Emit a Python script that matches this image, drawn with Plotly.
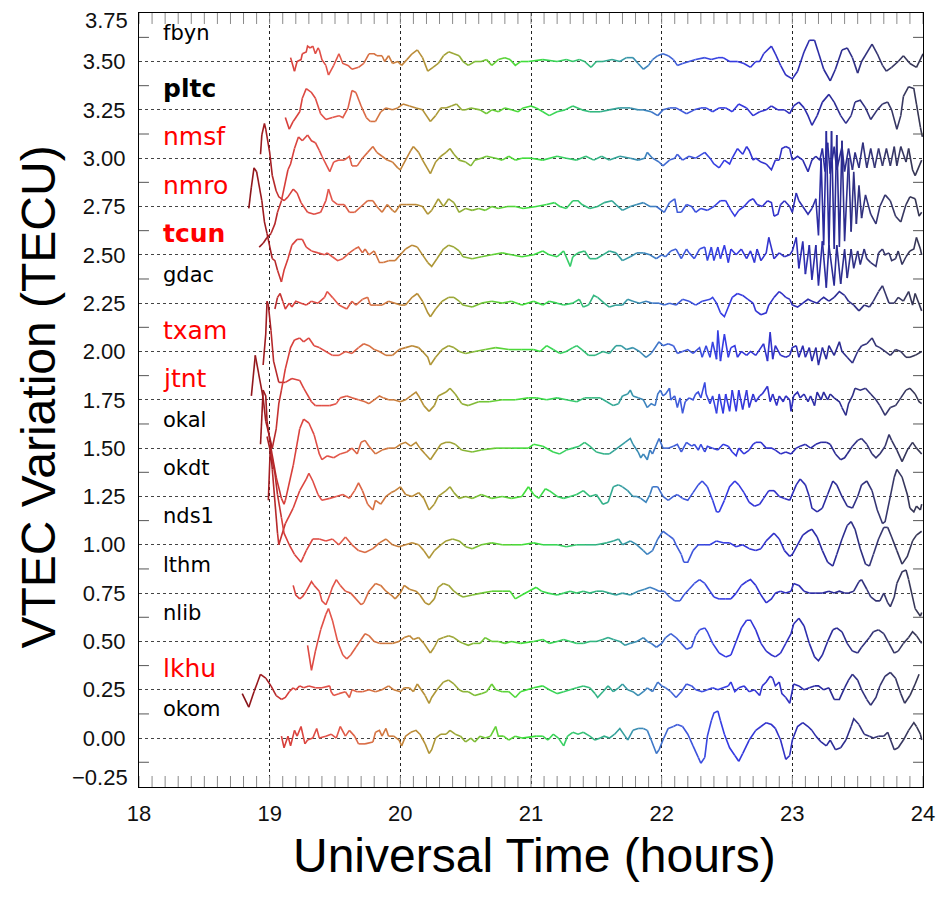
import plotly.graph_objects as go

# ---------------- data (hours UT, VTEC variation in TECU relative to each station offset) ----------------
STATIONS = ["fbyn", "pltc", "nmsf", "nmro", "tcun", "gdac", "txam", "jtnt",
            "okal", "okdt", "nds1", "lthm", "nlib", "lkhu", "okom"]
OFFSETS = [3.50, 3.25, 3.00, 2.75, 2.50, 2.25, 2.00, 1.75, 1.50, 1.25, 1.00, 0.75, 0.50, 0.25, 0.00]
LABEL_COLORS = ["black", "black", "red", "red", "red", "black", "red", "red",
                "black", "black", "black", "black", "black", "red", "black"]
LABEL_BOLD = [False, True, False, False, True, False, False, False,
              False, False, False, False, False, False, False]

FBYN = [(19.16,0.02),(19.19,-0.05),(19.21,0),(19.24,0.01),(19.25,0.04),(19.28,0.05),(19.29,0.08),(19.31,0.07),(19.33,0.08),(19.35,0.04),(19.37,0.07),(19.38,0.06),(19.40,0.01),(19.43,-0.02),(19.45,-0.07),(19.49,-0.02),(19.53,0.04),(19.56,-0.01),(19.60,-0.02),(19.63,-0.04),(19.68,-0.03),(19.72,-0.01),(19.76,0.04),(19.80,0.04),(19.82,0.03),(19.86,0.03),(19.88,0),(19.91,0.03),(19.94,-0.01),(19.98,0),(20.01,-0.02),(20.05,0.01),(20.09,0.04),(20.13,0.06),(20.17,0.02),(20.21,-0.05),(20.25,-0.03),(20.29,-0.01),(20.33,0.03),(20.37,0.05),(20.41,0.04),(20.45,0.03),(20.48,0),(20.52,-0.02),(20.57,0),(20.62,0),(20.66,0.01),(20.70,-0.02),(20.75,0.01),(20.80,0.02),(20.84,0.01),(20.88,-0.02),(20.92,0),(20.98,0),
        (21.09,0.01),(21.20,0),(21.27,0.01),(21.32,0),(21.37,0.01),(21.41,0),(21.46,-0.03),(21.50,0),(21.55,0),(21.62,0.01),(21.68,0),(21.73,0.02),(21.78,0.02),(21.82,-0.01),(21.86,-0.04),(21.90,-0.02),(21.93,0.01),(21.97,0.03),(22.01,0.04),(22.05,0.03),(22.09,0.01),(22.12,-0.02),(22.16,-0.01),(22.21,0),(22.26,0.01),(22.33,0.02),(22.38,0.01),(22.43,0.02),(22.47,0.02),(22.52,0),(22.58,0),(22.63,-0.01),(22.68,-0.03),(22.72,0),(22.75,0),(22.78,0.04),(22.84,0.08),(22.87,0.04),(22.91,-0.02),(22.95,-0.07),(23.00,-0.09),(23.04,-0.05),(23.09,0.05),(23.13,0.11),(23.17,0.11),(23.20,0.05),(23.24,-0.04),(23.29,-0.10),(23.33,-0.04),(23.38,0.06),(23.42,0.07),(23.46,0.02),(23.50,-0.06),(23.53,0),(23.61,0.09),(23.65,0.04),(23.69,-0.02),(23.72,-0.05),(23.76,-0.03),(23.81,0),(23.85,0.03),(23.90,-0.01),(23.95,-0.03),(24.0,0.04)]

PLTC = [(19.12,-0.04),(19.15,-0.10),(19.18,-0.06),(19.20,-0.04),(19.23,-0.01),(19.25,0.06),(19.28,0.11),(19.32,0.09),(19.35,0.06),(19.39,-0.02),(19.43,-0.05),(19.48,-0.04),(19.53,-0.03),(19.56,-0.04),(19.60,0.01),(19.63,0.10),(19.66,0.09),(19.70,0.02),(19.74,-0.04),(19.77,-0.06),(19.81,-0.06),(19.85,-0.01),(19.89,0.01),(19.94,0),(19.98,0.01),(20.02,0.03),(20.07,0.02),(20.12,0.01),(20.17,0),(20.20,-0.03),(20.23,-0.06),(20.27,-0.03),(20.31,0.01),(20.35,0.01),(20.39,0.02),(20.43,0.03),(20.47,0),(20.50,0),(20.54,0.01),(20.61,0),(20.66,-0.02),(20.70,0),(20.75,-0.01),(20.80,0.01),(20.85,0),(20.90,-0.01),(20.94,0.01),
        (21.00,0.02),(21.04,0.01),(21.09,-0.01),(21.14,-0.03),(21.20,-0.01),(21.26,0),(21.32,0.02),(21.39,0),(21.45,-0.01),(21.53,-0.01),(21.60,0),(21.68,0.01),(21.76,0.01),(21.82,0),(21.86,0),(21.92,-0.01),(21.97,-0.03),(22.01,0),(22.06,0.01),(22.11,0.01),(22.19,-0.02),(22.25,0),(22.30,0.01),(22.34,0.01),(22.39,-0.01),(22.44,0.01),(22.49,0.01),(22.54,-0.01),(22.59,0.03),(22.65,0.01),(22.70,-0.03),(22.75,-0.01),(22.80,0),(22.84,0.02),(22.89,0),(22.94,0),(22.98,-0.02),(23.01,0.02),(23.05,0.04),(23.09,0.01),(23.12,-0.03),(23.15,-0.08),(23.19,-0.03),(23.23,0.04),(23.28,0.08),(23.32,0.04),(23.37,-0.03),(23.41,-0.07),(23.45,-0.03),(23.48,0.04),(23.52,0.05),(23.56,0.01),(23.60,-0.05),(23.65,0),(23.69,0.03),(23.73,0.04),(23.76,0),(23.80,-0.10),(23.83,-0.03),(23.85,0.07),(23.89,0.12),(23.93,0.11),(23.95,0.03),(23.98,-0.09),(23.995,-0.14)]

NMSF = [(18.92,-0.46),(18.95,-0.44),(18.98,-0.41),(19.01,-0.39),(19.04,-0.34),(19.06,-0.28),(19.09,-0.22),(19.11,-0.16),(19.14,-0.06),(19.16,-0.03),(19.19,0.05),(19.22,0.11),(19.25,0.09),(19.29,0.12),(19.32,0.09),(19.35,0.08),(19.38,0.04),(19.40,0.01),(19.46,-0.07),(19.49,-0.02),(19.53,-0.01),(19.57,-0.01),(19.61,0.01),(19.63,-0.04),(19.67,-0.04),(19.71,0),(19.75,0.03),(19.79,0.06),(19.82,0.03),(19.86,0.01),(19.90,-0.01),(19.94,-0.02),(19.98,-0.05),(20.00,-0.06),(20.04,-0.01),(20.08,0.04),(20.10,0.06),(20.14,0.03),(20.17,-0.01),(20.21,-0.06),(20.23,-0.08),(20.27,-0.02),(20.31,0.01),(20.35,0.03),(20.38,0.05),(20.41,0.02),(20.45,-0.01),(20.50,-0.02),(20.54,-0.04),(20.57,-0.01),(20.62,0),(20.66,0.01),(20.73,0),(20.78,-0.01),(20.83,0.01),(20.88,-0.01),(20.93,0),
        (21.00,0),(21.09,-0.01),(21.20,0.01),(21.27,0),(21.35,-0.01),(21.42,0.01),(21.48,-0.01),(21.54,0.01),(21.60,-0.01),(21.68,0.01),(21.76,0),(21.82,-0.01),(21.87,0),(21.89,0.03),(21.93,0),(21.98,-0.02),(22.01,-0.04),(22.06,-0.01),(22.10,0),(22.12,0.02),(22.16,-0.01),(22.21,0.01),(22.26,0),(22.33,0.03),(22.37,0),(22.40,-0.03),(22.44,-0.05),(22.48,-0.01),(22.52,-0.03),(22.54,0),(22.58,0.05),(22.62,0.02),(22.65,0.06),(22.67,0.04),(22.70,-0.01),(22.72,0),(22.76,-0.02),(22.80,-0.03),(22.84,-0.06),(22.87,-0.01),(22.90,-0.01),(22.92,0.05),(22.95,0.06),(22.98,0.05),(23.00,-0.01),(23.04,0.01),(23.08,-0.01),(23.12,-0.07),(23.15,-0.01),(23.18,0.01),(23.21,-0.01),(23.23,0.05),(23.25,-0.07),(23.27,0.08),(23.29,-0.08),(23.32,0.06),(23.34,-0.06),(23.38,0.06),(23.40,-0.07),(23.43,0.05),(23.46,-0.06),(23.48,0.03),(23.51,-0.05),(23.54,0.08),(23.57,-0.05),(23.60,0.05),(23.63,-0.05),(23.66,0.05),(23.69,-0.04),(23.72,0.05),(23.75,-0.04),(23.78,0.06),(23.80,-0.04),(23.83,0.06),(23.87,-0.02),(23.89,0.05),(23.92,-0.06),(23.94,-0.09),(23.97,-0.04),(23.99,-0.01)]

NMRO = [(18.93,0.27),(18.94,0.37),(18.96,0.43),(18.97,0.40),(19.00,0.28),(19.02,0.16),(19.05,0.08),(19.07,0.05),(19.11,0.03),(19.14,0.05),(19.18,0.09),(19.21,0.07),(19.24,0.02),(19.29,-0.03),(19.34,-0.04),(19.39,-0.03),(19.43,0.03),(19.45,0.09),(19.48,0.03),(19.52,0.01),(19.57,0.01),(19.61,-0.03),(19.65,-0.03),(19.70,0),(19.75,0.03),(19.79,0.03),(19.82,0),(19.86,-0.03),(19.90,0.01),(19.94,-0.02),(19.96,-0.03),(20.00,0.01),(20.05,0.01),(20.12,0.01),(20.17,0),(20.21,-0.04),(20.24,-0.02),(20.29,0.04),(20.33,0),(20.37,0.04),(20.41,0.02),(20.45,-0.03),(20.50,-0.01),(20.55,-0.02),(20.60,-0.01),(20.65,-0.02),(20.70,0),(20.75,-0.01),(20.82,0),(20.88,0),(20.94,-0.01),
        (21.04,0),(21.12,0.01),(21.18,0.02),(21.22,0),(21.27,-0.01),(21.32,0.03),(21.36,0.03),(21.39,0.01),(21.45,-0.01),(21.51,0),(21.56,0.02),(21.62,0.03),(21.65,0.01),(21.70,-0.02),(21.76,0),(21.81,0.01),(21.86,0.02),(21.91,0),(21.96,0),(22.02,-0.03),(22.06,0.02),(22.10,0.04),(22.12,-0.03),(22.15,-0.03),(22.19,0.01),(22.23,0),(22.26,-0.03),(22.30,-0.01),(22.35,-0.02),(22.40,0),(22.45,0.03),(22.49,0.03),(22.53,-0.02),(22.56,-0.05),(22.59,-0.02),(22.63,0),(22.67,0.03),(22.70,0.04),(22.73,0.01),(22.77,0),(22.81,0.03),(22.84,0.02),(22.86,-0.05),(22.89,-0.04),(22.91,0.01),(22.94,0.03),(22.98,0),(23.00,-0.03),(23.03,0.07),(23.05,0.03),(23.08,0),(23.12,-0.04),(23.15,-0.01),(23.18,0.04),(23.20,-0.15),(23.22,0.25),(23.24,-0.20),(23.26,0.39),(23.28,-0.22),(23.30,0.39),(23.32,-0.22),(23.34,0.37),(23.36,-0.21),(23.38,0.34),(23.40,-0.18),(23.43,0.25),(23.45,-0.13),(23.47,0.18),(23.49,-0.09),(23.51,0.11),(23.53,-0.06),(23.56,0.06),(23.60,-0.04),(23.64,-0.09),(23.67,0),(23.71,0.06),(23.75,0.03),(23.79,-0.05),(23.83,-0.08),(23.87,0.01),(23.90,0.05),(23.94,0.04),(23.97,-0.05),(23.99,-0.03)]

TCUN = [(18.84,0.24),(18.86,0.35),(18.87,0.42),(18.88,0.45),(18.90,0.43),(18.92,0.36),(18.94,0.28),(18.96,0.17),(18.98,0.11),(19.00,0.04),(19.02,-0.02),(19.04,-0.03),(19.06,-0.08),(19.09,-0.14),(19.11,-0.08),(19.14,-0.02),(19.17,0.05),(19.21,0.08),(19.25,0.08),(19.28,0.04),(19.32,0.02),(19.37,0.01),(19.42,0),(19.44,0.01),(19.48,-0.01),(19.52,-0.03),(19.56,-0.02),(19.61,0.01),(19.65,0.03),(19.68,0.04),(19.71,0.01),(19.73,0.03),(19.76,0),(19.80,0.02),(19.84,-0.04),(19.87,-0.04),(19.91,-0.03),(19.96,-0.03),(20.00,0),(20.04,0.03),(20.09,0.05),(20.13,0.04),(20.17,0),(20.21,-0.04),(20.24,-0.06),(20.28,-0.02),(20.33,0.03),(20.37,0.05),(20.41,0.04),(20.45,0.02),(20.48,-0.01),(20.55,-0.02),(20.62,-0.01),(20.70,0),(20.78,0.01),(20.85,0),(20.93,-0.01),
        (21.02,0),(21.09,0.02),(21.14,0),(21.20,-0.01),(21.25,0.02),(21.28,-0.03),(21.30,-0.06),(21.32,-0.01),(21.36,0.01),(21.41,0.02),(21.45,-0.02),(21.50,-0.02),(21.55,0),(21.60,0.02),(21.65,0.01),(21.70,-0.03),(21.76,-0.01),(21.81,0.01),(21.86,0.01),(21.91,0),(21.96,-0.02),(22.00,0),(22.03,-0.01),(22.07,0.02),(22.11,0.03),(22.15,-0.02),(22.19,0.03),(22.21,0.01),(22.25,-0.02),(22.29,0.03),(22.33,0.04),(22.35,-0.03),(22.38,0.04),(22.40,-0.03),(22.43,0.04),(22.45,-0.02),(22.48,0.05),(22.51,-0.04),(22.53,0.03),(22.57,0),(22.61,0.03),(22.65,-0.02),(22.68,0.02),(22.71,-0.04),(22.73,0.03),(22.76,-0.03),(22.80,0.01),(22.82,0.09),(22.84,0.03),(22.86,-0.02),(22.90,0.01),(22.94,-0.01),(22.98,0),(23.00,0.02),(23.03,0.09),(23.05,-0.07),(23.08,0.07),(23.10,-0.10),(23.13,0.05),(23.15,-0.13),(23.18,0.05),(23.20,-0.16),(23.23,0.07),(23.26,-0.17),(23.28,0.05),(23.32,-0.16),(23.34,0.05),(23.37,-0.15),(23.40,0.03),(23.42,-0.12),(23.45,0.03),(23.47,-0.07),(23.50,0.02),(23.52,-0.05),(23.55,0.03),(23.57,-0.02),(23.60,-0.04),(23.64,-0.06),(23.66,0.01),(23.69,0.03),(23.71,0),(23.74,0.01),(23.76,-0.03),(23.79,-0.02),(23.81,0.02),(23.84,-0.05),(23.87,-0.01),(23.90,0.02),(23.93,0.03),(23.95,0.09),(23.98,0.03),(23.99,0)]

GDAC = [(19.04,-0.03),(19.06,0.03),(19.08,0.05),(19.10,0.01),(19.12,-0.03),(19.15,0),(19.17,-0.02),(19.20,0.01),(19.24,0),(19.28,-0.01),(19.32,0.01),(19.37,0),(19.42,0.03),(19.44,0.06),(19.48,0.03),(19.53,-0.01),(19.59,-0.03),(19.63,0.01),(19.66,-0.01),(19.71,0.02),(19.75,0.03),(19.77,-0.01),(19.82,-0.01),(19.86,-0.01),(19.91,0.01),(19.96,0),(20.00,-0.01),(20.04,-0.01),(20.09,0.03),(20.13,0.05),(20.17,0.01),(20.21,-0.05),(20.23,-0.07),(20.27,-0.03),(20.32,0.01),(20.37,0.03),(20.41,0.03),(20.45,0.01),(20.48,-0.01),(20.55,-0.02),(20.62,0),(20.70,0.01),(20.78,0),(20.85,0.01),(20.93,-0.01),
        (21.02,0.01),(21.09,-0.01),(21.14,0.01),(21.20,0),(21.25,-0.01),(21.32,0),(21.37,0.02),(21.40,-0.02),(21.44,-0.01),(21.48,0.04),(21.51,0.03),(21.56,0),(21.60,-0.02),(21.65,-0.01),(21.70,-0.01),(21.74,0.02),(21.78,0.01),(21.83,0),(21.88,0.01),(21.93,0),(21.98,0),(22.02,-0.01),(22.06,0),(22.11,-0.01),(22.16,0.02),(22.21,0.01),(22.26,-0.01),(22.31,0.01),(22.37,0.02),(22.39,0.03),(22.42,0),(22.45,-0.05),(22.48,-0.07),(22.51,-0.02),(22.54,0.03),(22.58,0.05),(22.62,0.04),(22.66,0.02),(22.70,0),(22.72,-0.04),(22.76,-0.06),(22.80,-0.05),(22.82,-0.01),(22.86,0.03),(22.90,0.06),(22.92,0.05),(22.95,0.03),(22.98,0.02),(23.00,-0.01),(23.04,-0.02),(23.08,0),(23.12,0.02),(23.15,0.01),(23.19,0),(23.22,0.02),(23.24,0.03),(23.28,0.01),(23.32,0.03),(23.36,0.06),(23.40,0.04),(23.43,0.01),(23.47,-0.01),(23.51,-0.04),(23.55,-0.01),(23.59,-0.02),(23.62,0.01),(23.66,0.06),(23.69,0.09),(23.71,0.05),(23.74,0),(23.78,0),(23.81,0.03),(23.85,0.01),(23.89,0.06),(23.92,-0.01),(23.94,0.05),(23.97,-0.01),(23.99,-0.04)]

TXAM = [(18.86,-0.23),(18.89,-0.02),(18.92,-0.13),(18.95,-0.24),(18.97,-0.36),(19.00,-0.44),(19.02,-0.50),(19.05,-0.40),(19.07,-0.27),(19.09,-0.20),(19.12,-0.09),(19.16,0.02),(19.19,0.06),(19.23,0.07),(19.26,0.05),(19.30,0.07),(19.34,0.03),(19.38,0.02),(19.43,0),(19.48,-0.02),(19.53,-0.02),(19.58,0),(19.63,-0.01),(19.68,0.02),(19.72,0.04),(19.76,0.03),(19.80,0.01),(19.84,0),(19.89,-0.02),(19.94,-0.02),(19.99,0.01),(20.04,0.02),(20.09,0.03),(20.14,0.02),(20.17,0),(20.21,-0.03),(20.23,-0.07),(20.27,-0.03),(20.32,0.01),(20.37,0.03),(20.41,0.02),(20.45,0),(20.50,-0.01),(20.57,0),(20.65,0.01),(20.73,0.02),(20.83,0.01),(20.93,0.01),
        (21.02,0.01),(21.07,0),(21.12,0.03),(21.17,0.01),(21.22,-0.01),(21.27,0),(21.32,0.02),(21.35,0.03),(21.39,0.01),(21.44,-0.02),(21.49,-0.02),(21.55,0),(21.60,-0.01),(21.65,0.03),(21.69,0.03),(21.73,0.01),(21.78,0.02),(21.83,0),(21.88,-0.03),(21.92,-0.01),(21.96,0.03),(21.98,0.05),(22.01,0.03),(22.05,0.04),(22.09,0.03),(22.12,-0.01),(22.16,0),(22.20,0.01),(22.24,-0.01),(22.29,0.02),(22.31,-0.03),(22.34,0.03),(22.37,-0.03),(22.39,0.05),(22.42,-0.04),(22.43,0.11),(22.45,-0.05),(22.48,0.09),(22.51,-0.03),(22.53,0.02),(22.56,0.03),(22.58,-0.03),(22.61,0),(22.65,-0.02),(22.68,0),(22.72,-0.02),(22.76,0.02),(22.78,0.04),(22.81,-0.05),(22.83,0.10),(22.85,-0.04),(22.87,0.03),(22.91,-0.02),(22.95,-0.03),(22.98,-0.02),(23.00,0.02),(23.03,0.03),(23.05,-0.03),(23.08,0.03),(23.10,-0.03),(23.13,0.02),(23.15,-0.05),(23.18,0.02),(23.20,-0.07),(23.23,0.02),(23.26,-0.04),(23.28,0.03),(23.32,-0.02),(23.36,0.05),(23.38,0),(23.42,-0.03),(23.46,-0.06),(23.50,0),(23.53,0.03),(23.57,0.04),(23.61,0.07),(23.64,0.03),(23.67,0.02),(23.71,0),(23.75,-0.02),(23.79,0.01),(23.83,0),(23.87,-0.03),(23.90,-0.03),(23.94,-0.02),(23.99,0)]

JTNT = [(18.95,0.18),(18.97,0.34),(18.98,0.51),(18.99,0.49),(19.01,0.36),(19.03,0.20),(19.07,0.09),(19.12,0.09),(19.17,0.11),(19.23,0.10),(19.26,0.06),(19.32,-0.01),(19.35,-0.03),(19.40,-0.03),(19.46,-0.03),(19.51,-0.02),(19.54,0.01),(19.59,0.02),(19.63,0.01),(19.68,0),(19.73,-0.01),(19.76,-0.02),(19.80,0),(19.84,0.02),(19.87,0.01),(19.91,0),(19.95,0),(20.00,-0.01),(20.04,0),(20.08,0.02),(20.12,0.04),(20.14,0.02),(20.18,-0.03),(20.22,-0.06),(20.26,-0.03),(20.29,0.02),(20.35,0.04),(20.38,0.06),(20.42,0.03),(20.47,-0.02),(20.52,-0.03),(20.60,-0.01),(20.68,-0.01),(20.78,0),(20.88,0),(20.98,0.01),
        (21.04,0.01),(21.12,0),(21.20,0.01),(21.27,0),(21.35,-0.01),(21.41,0.01),(21.46,0.01),(21.53,0.01),(21.58,-0.01),(21.63,-0.03),(21.67,-0.02),(21.70,0.02),(21.74,0.03),(21.76,0.05),(21.78,0.02),(21.82,0.01),(21.86,0),(21.89,-0.04),(21.92,-0.02),(21.95,-0.03),(21.97,0.03),(21.99,0.05),(22.01,0.02),(22.03,0.03),(22.06,0.06),(22.07,0),(22.10,0.02),(22.12,-0.04),(22.14,0.01),(22.16,-0.07),(22.18,-0.01),(22.21,0.01),(22.24,0),(22.26,0.03),(22.28,0.04),(22.30,0.01),(22.33,0.09),(22.34,0.03),(22.37,-0.02),(22.39,0.02),(22.42,-0.07),(22.44,0.03),(22.47,-0.07),(22.49,0.03),(22.52,-0.06),(22.54,0.05),(22.57,-0.06),(22.59,0.05),(22.62,-0.05),(22.65,0.05),(22.67,-0.04),(22.70,0.03),(22.72,-0.01),(22.75,0.02),(22.77,0.03),(22.81,0.07),(22.83,-0.01),(22.85,0.03),(22.88,-0.03),(22.90,0.02),(22.93,-0.01),(22.95,0.02),(22.98,0),(22.99,-0.06),(23.01,0.02),(23.04,0.04),(23.06,0.01),(23.09,0.03),(23.12,-0.01),(23.14,0.02),(23.17,-0.03),(23.19,0.04),(23.22,0),(23.24,0.04),(23.27,0),(23.29,0.03),(23.32,0.01),(23.36,-0.01),(23.38,-0.04),(23.41,-0.08),(23.43,-0.02),(23.46,0.02),(23.48,0.06),(23.52,0.05),(23.56,0.06),(23.60,0.03),(23.64,0),(23.67,-0.03),(23.71,-0.08),(23.75,-0.04),(23.79,-0.03),(23.83,0.01),(23.87,0.05),(23.90,0.06),(23.94,0.03),(23.97,-0.01),(23.99,-0.02)]

OKAL = [(18.93,0.02),(18.95,0.30),(18.97,0.27),(18.98,0.14),(19.01,0),(19.05,-0.15),(19.09,-0.26),(19.11,-0.29),(19.12,-0.27),(19.18,-0.09),(19.23,0.10),(19.26,0.15),(19.30,0.13),(19.34,0.07),(19.38,-0.03),(19.40,-0.06),(19.44,-0.04),(19.49,-0.05),(19.54,-0.03),(19.59,-0.02),(19.63,0),(19.67,-0.03),(19.70,0.03),(19.73,0.04),(19.76,0.01),(19.81,-0.03),(19.86,-0.01),(19.91,0),(19.96,0),(20.00,0.02),(20.04,0.03),(20.08,0.01),(20.12,0.03),(20.15,0),(20.19,-0.03),(20.23,-0.06),(20.27,-0.02),(20.31,0.02),(20.35,0.03),(20.38,0.03),(20.42,0.02),(20.47,-0.01),(20.55,-0.02),(20.62,-0.01),(20.73,0),(20.85,0),(20.98,0),
        (21.02,0.02),(21.09,0.01),(21.17,-0.02),(21.22,-0.03),(21.27,-0.01),(21.32,0),(21.37,0.01),(21.41,0.03),(21.45,0.01),(21.50,-0.02),(21.56,-0.03),(21.60,-0.03),(21.64,-0.01),(21.68,0.01),(21.72,0.03),(21.76,0.05),(21.78,0.02),(21.82,-0.02),(21.84,-0.05),(21.86,-0.03),(21.89,-0.06),(21.91,-0.01),(21.93,-0.03),(21.96,0.02),(21.98,0.05),(22.01,0),(22.05,0),(22.09,0.01),(22.12,0.02),(22.15,-0.02),(22.19,0.03),(22.23,0.01),(22.25,0.02),(22.28,-0.01),(22.30,0.02),(22.33,-0.02),(22.35,0.01),(22.39,0),(22.43,-0.01),(22.47,0.02),(22.51,0.01),(22.54,-0.02),(22.57,-0.04),(22.59,0),(22.63,-0.03),(22.67,-0.01),(22.70,0.02),(22.72,0.03),(22.76,0.03),(22.80,0),(22.84,0),(22.87,-0.01),(22.91,-0.03),(22.95,-0.02),(22.99,-0.03),(23.03,0),(23.06,0.01),(23.10,0.02),(23.14,0),(23.18,0.02),(23.22,0.03),(23.26,0.03),(23.29,0.02),(23.33,-0.03),(23.37,-0.06),(23.40,-0.05),(23.42,-0.03),(23.46,0.01),(23.50,0.04),(23.53,0.05),(23.57,0.02),(23.61,-0.03),(23.64,-0.05),(23.67,-0.03),(23.71,0.01),(23.74,0.07),(23.76,0.04),(23.80,-0.01),(23.84,-0.07),(23.88,-0.01),(23.92,0.03),(23.95,0),(23.99,-0.03)]

OKDT = [(18.99,-0.02),(19.005,0.26),(19.02,0.14),(19.04,-0.02),(19.06,-0.19),(19.07,-0.25),(19.12,-0.14),(19.18,-0.06),(19.23,0.03),(19.28,0.09),(19.30,0.12),(19.33,0.08),(19.37,0.01),(19.40,-0.02),(19.46,-0.01),(19.51,0),(19.56,0.01),(19.61,-0.01),(19.65,0.03),(19.68,0.07),(19.71,0.03),(19.75,-0.04),(19.79,-0.07),(19.81,-0.02),(19.85,-0.04),(19.89,0),(19.93,0.02),(19.96,0.03),(20.00,0.05),(20.04,0.01),(20.09,0),(20.14,0.02),(20.18,-0.01),(20.22,-0.07),(20.26,-0.04),(20.29,0),(20.35,0.03),(20.38,0.05),(20.41,0.02),(20.45,-0.01),(20.50,0),(20.55,-0.01),(20.62,0.01),(20.70,-0.01),(20.78,0),(20.85,-0.01),(20.93,0),(20.98,0.05),
        (21.02,0.01),(21.06,-0.01),(21.11,0.04),(21.14,0.03),(21.20,0),(21.25,-0.01),(21.30,0),(21.35,0.01),(21.40,0.03),(21.45,0),(21.50,0.01),(21.55,-0.04),(21.59,-0.03),(21.63,0.05),(21.67,0.06),(21.70,0.05),(21.74,0.03),(21.78,0),(21.81,0),(21.84,-0.01),(21.88,-0.03),(21.91,0.01),(21.93,0.05),(21.97,0.05),(22.01,0),(22.05,-0.02),(22.09,0),(22.12,0.01),(22.16,-0.01),(22.20,-0.02),(22.24,0.02),(22.28,0.06),(22.31,0.08),(22.35,0.05),(22.39,-0.02),(22.42,-0.08),(22.44,-0.08),(22.48,-0.02),(22.52,0.05),(22.56,0.08),(22.59,0.06),(22.63,0.02),(22.67,-0.03),(22.71,-0.05),(22.75,-0.04),(22.78,-0.01),(22.82,0.03),(22.86,0.03),(22.90,0),(22.94,-0.01),(22.98,-0.02),(23.00,0.01),(23.03,0.06),(23.06,0.09),(23.10,0.06),(23.13,0),(23.15,-0.06),(23.19,-0.08),(23.23,-0.06),(23.27,0.01),(23.31,0.08),(23.34,0.06),(23.38,0),(23.42,-0.05),(23.46,-0.06),(23.50,0),(23.53,0.06),(23.57,0.08),(23.61,0.03),(23.65,-0.07),(23.69,-0.14),(23.71,-0.13),(23.75,0),(23.78,0.10),(23.80,0.14),(23.84,0.10),(23.88,0.01),(23.90,-0.06),(23.93,-0.08),(23.95,-0.05),(23.98,-0.07),(23.99,-0.04)]

NDS1 = [(18.98,0.56),(19.01,0.47),(19.04,0.37),(19.06,0.26),(19.09,0.14),(19.11,0.06),(19.15,0),(19.19,-0.05),(19.24,-0.09),(19.26,-0.06),(19.28,-0.03),(19.33,0.03),(19.38,0.03),(19.43,0.02),(19.48,0.03),(19.53,0),(19.58,0.04),(19.63,0),(19.68,-0.03),(19.73,-0.04),(19.79,-0.02),(19.84,0.01),(19.89,0.03),(19.94,0),(19.99,-0.01),(20.04,0),(20.09,0.01),(20.14,0),(20.18,-0.03),(20.22,-0.07),(20.26,-0.03),(20.31,0),(20.35,0.02),(20.40,0.03),(20.45,0.02),(20.50,-0.01),(20.55,-0.02),(20.62,0),(20.70,0.01),(20.78,0),(20.85,0),(20.93,0),
        (21.02,0.01),(21.09,0),(21.20,0),(21.27,-0.01),(21.35,0),(21.42,0),(21.50,0),(21.58,0.01),(21.63,0.02),(21.67,0.03),(21.70,0),(21.76,0.02),(21.81,0),(21.86,-0.03),(21.89,-0.05),(21.93,-0.03),(21.97,0.03),(22.01,0.07),(22.05,0.05),(22.09,0.03),(22.11,0),(22.15,-0.05),(22.17,-0.09),(22.20,-0.09),(22.24,-0.03),(22.28,0),(22.33,0),(22.37,0),(22.42,0.02),(22.47,0.01),(22.52,0.01),(22.57,-0.01),(22.62,0),(22.67,-0.02),(22.72,-0.03),(22.76,-0.02),(22.80,0.02),(22.84,0.05),(22.86,0.06),(22.90,0.03),(22.94,-0.03),(22.98,-0.06),(23.00,-0.05),(23.04,0),(23.08,0.05),(23.12,0.07),(23.15,0.08),(23.19,0.04),(23.23,-0.03),(23.27,-0.09),(23.31,-0.11),(23.34,-0.05),(23.38,0.03),(23.42,0.10),(23.45,0.12),(23.48,0.08),(23.52,-0.02),(23.56,-0.10),(23.59,-0.11),(23.62,-0.05),(23.66,0.03),(23.70,0.09),(23.73,0.09),(23.76,0.04),(23.80,-0.03),(23.84,-0.10),(23.88,-0.06),(23.92,0.02),(23.95,0.05),(23.99,0.07)]

LTHM = [(19.18,0.04),(19.20,-0.01),(19.23,-0.03),(19.25,-0.02),(19.28,0.01),(19.32,0.06),(19.34,0.04),(19.38,0.01),(19.40,-0.04),(19.43,-0.06),(19.46,-0.01),(19.48,0.03),(19.51,0.07),(19.54,0.04),(19.58,0.01),(19.62,0),(19.66,-0.03),(19.70,-0.06),(19.72,-0.05),(19.76,0.01),(19.81,0.05),(19.85,0.04),(19.89,0.01),(19.93,-0.01),(19.96,-0.03),(20.00,0),(20.03,0.04),(20.07,0.02),(20.12,0.01),(20.15,-0.01),(20.19,-0.05),(20.22,-0.06),(20.26,-0.03),(20.29,0.03),(20.33,0.05),(20.37,0.04),(20.41,0.01),(20.45,-0.01),(20.48,-0.02),(20.55,-0.01),(20.62,0),(20.70,0.01),(20.78,0.01),(20.84,0.01),(20.88,-0.03),(20.93,-0.01),
        (21.04,0.03),(21.08,0.01),(21.13,0),(21.20,-0.01),(21.25,0),(21.30,0.01),(21.35,0),(21.40,0.01),(21.45,0),(21.50,0.01),(21.55,0.01),(21.60,0),(21.65,-0.01),(21.70,0),(21.76,-0.01),(21.82,0.01),(21.87,0.02),(21.91,0.03),(21.95,0.02),(21.98,0.01),(22.02,0.01),(22.06,-0.02),(22.10,-0.04),(22.14,-0.04),(22.17,-0.01),(22.21,0.02),(22.25,0.05),(22.29,0.07),(22.33,0.05),(22.37,0.01),(22.40,-0.02),(22.44,-0.03),(22.49,-0.03),(22.53,-0.03),(22.57,0),(22.61,0.04),(22.65,0.06),(22.68,0.07),(22.72,0.04),(22.76,-0.01),(22.80,-0.05),(22.84,-0.03),(22.87,0),(22.91,0.01),(22.95,0),(22.99,0.01),(23.01,0.05),(23.05,0.04),(23.09,0.01),(23.13,0),(23.18,0),(23.23,0),(23.28,0.01),(23.32,0),(23.36,0.01),(23.40,0),(23.43,0),(23.47,0.01),(23.51,0.06),(23.53,0.07),(23.57,0.02),(23.60,-0.02),(23.64,-0.04),(23.67,-0.04),(23.70,0),(23.73,-0.05),(23.75,-0.07),(23.78,-0.02),(23.80,0.05),(23.84,0.11),(23.87,0.12),(23.89,0.07),(23.92,-0.02),(23.94,-0.08),(23.98,-0.12),(23.99,-0.10)]

NLIB = [(19.29,-0.02),(19.32,-0.15),(19.35,-0.05),(19.39,0.06),(19.43,0.14),(19.45,0.17),(19.48,0.11),(19.52,0),(19.56,-0.07),(19.59,-0.09),(19.62,-0.07),(19.66,-0.03),(19.70,0.01),(19.73,0.04),(19.76,0.03),(19.80,0),(19.84,-0.01),(19.89,-0.01),(19.94,-0.01),(19.99,0),(20.03,0.02),(20.07,0.03),(20.10,0.01),(20.14,0.02),(20.18,-0.01),(20.21,-0.04),(20.23,-0.06),(20.26,-0.03),(20.29,0.01),(20.33,0.02),(20.37,0.03),(20.41,0.02),(20.45,0),(20.48,-0.01),(20.52,-0.02),(20.56,-0.01),(20.61,-0.01),(20.65,0.02),(20.70,0),(20.75,0),(20.80,-0.01),(20.85,0),(20.92,-0.01),
        (21.02,0),(21.09,0.01),(21.14,-0.01),(21.20,0),(21.25,0.01),(21.30,0),(21.35,-0.01),(21.40,-0.01),(21.45,0),(21.50,0),(21.55,0.01),(21.59,0.02),(21.63,0.01),(21.68,0),(21.72,-0.02),(21.76,-0.01),(21.81,0),(21.86,0.02),(21.89,0),(21.92,-0.01),(21.96,-0.03),(22.00,-0.01),(22.03,0.02),(22.07,0.04),(22.11,0.02),(22.15,-0.01),(22.19,-0.04),(22.23,-0.03),(22.26,0.03),(22.29,0.06),(22.33,0.07),(22.35,0.05),(22.39,-0.01),(22.44,-0.06),(22.49,-0.08),(22.53,-0.07),(22.57,0),(22.61,0.07),(22.65,0.11),(22.68,0.11),(22.72,0.06),(22.76,-0.01),(22.80,-0.05),(22.84,-0.07),(22.87,-0.08),(22.91,-0.06),(22.95,-0.01),(22.99,0.04),(23.01,0.09),(23.05,0.12),(23.09,0.08),(23.13,-0.01),(23.17,-0.08),(23.20,-0.10),(23.23,-0.07),(23.27,0),(23.31,0.06),(23.34,0.07),(23.38,0.05),(23.42,-0.01),(23.46,-0.05),(23.50,-0.06),(23.53,-0.03),(23.59,0.02),(23.62,0.05),(23.66,0.06),(23.70,0.04),(23.74,-0.01),(23.78,-0.06),(23.81,-0.05),(23.85,-0.01),(23.89,0.02),(23.92,0.05),(23.95,0.03),(23.99,-0.01)]

LKHU = [(18.79,-0.02),(18.84,-0.09),(18.88,-0.01),(18.93,0.08),(18.97,0.06),(19.01,0.02),(19.05,-0.03),(19.09,-0.05),(19.12,-0.04),(19.15,-0.01),(19.18,0.01),(19.20,0),(19.23,0.02),(19.26,0.01),(19.30,0.02),(19.35,0.01),(19.40,0.01),(19.46,0.02),(19.47,-0.01),(19.49,-0.03),(19.53,-0.02),(19.58,-0.01),(19.61,-0.04),(19.63,0),(19.67,-0.01),(19.71,-0.01),(19.76,0),(19.81,-0.01),(19.86,0),(19.91,0.02),(19.95,0),(20.00,-0.01),(20.03,0.01),(20.07,0.01),(20.10,-0.01),(20.13,0.03),(20.15,0.01),(20.19,-0.03),(20.22,-0.07),(20.24,-0.04),(20.28,0),(20.33,0.04),(20.37,0.05),(20.41,0.03),(20.45,0),(20.48,-0.01),(20.52,-0.01),(20.57,-0.03),(20.62,-0.02),(20.66,-0.01),(20.70,0.03),(20.73,0),(20.78,-0.01),(20.83,-0.01),(20.88,-0.04),(20.92,-0.01),
        (21.02,0.01),(21.09,0.02),(21.14,0),(21.20,-0.02),(21.25,-0.01),(21.30,0),(21.35,0.01),(21.40,0.02),(21.45,0.01),(21.49,-0.02),(21.51,-0.04),(21.55,-0.01),(21.59,0.02),(21.63,-0.01),(21.67,0.01),(21.70,0.03),(21.74,0),(21.78,-0.01),(21.82,-0.03),(21.86,-0.01),(21.89,0.01),(21.93,-0.01),(21.97,0.04),(22.00,0.02),(22.03,0.01),(22.07,-0.01),(22.11,-0.04),(22.15,-0.01),(22.19,0.03),(22.23,0.02),(22.26,0),(22.31,-0.01),(22.35,0),(22.39,0.01),(22.43,0),(22.47,0.01),(22.51,0.02),(22.53,0.04),(22.56,-0.01),(22.59,0.01),(22.63,0.02),(22.67,-0.01),(22.71,0),(22.75,-0.03),(22.77,0.02),(22.80,0.04),(22.83,0.07),(22.85,0.06),(22.87,0.02),(22.90,0.04),(22.92,-0.02),(22.95,-0.04),(22.98,-0.07),(23.00,-0.01),(23.01,0.03),(23.05,0.02),(23.09,0),(23.13,0.01),(23.17,0.02),(23.20,0.02),(23.24,0),(23.28,0.01),(23.32,-0.05),(23.36,-0.05),(23.40,0.01),(23.43,0.05),(23.46,0.08),(23.50,0.05),(23.53,0),(23.57,-0.05),(23.60,-0.08),(23.64,-0.04),(23.67,0.02),(23.71,0.07),(23.75,0.09),(23.79,0.06),(23.83,-0.02),(23.86,-0.07),(23.90,-0.03),(23.94,0.03),(23.97,0.08)]

OKOM = [(19.09,0.01),(19.11,-0.05),(19.14,0.01),(19.16,-0.04),(19.19,0.04),(19.21,0.01),(19.24,0.06),(19.27,-0.03),(19.29,-0.01),(19.33,0),(19.36,0.05),(19.38,0),(19.43,0.01),(19.47,0.02),(19.51,0),(19.54,0.06),(19.58,0.01),(19.61,0.04),(19.65,0.01),(19.68,-0.03),(19.73,-0.03),(19.79,-0.02),(19.81,0.03),(19.84,0.04),(19.86,0.01),(19.89,0.05),(19.91,0.01),(19.95,0.01),(19.99,-0.01),(20.01,-0.04),(20.04,0.01),(20.08,0.03),(20.12,0.04),(20.15,0.02),(20.19,-0.03),(20.22,-0.08),(20.24,-0.06),(20.27,0),(20.31,0.02),(20.35,0.02),(20.38,0.04),(20.42,0.02),(20.46,0.01),(20.50,-0.02),(20.54,0),(20.57,-0.02),(20.61,0.01),(20.65,0),(20.69,0.01),(20.73,0.06),(20.75,0.01),(20.79,0.01),(20.83,-0.01),(20.88,0.01),(20.93,0),
        (21.04,0.01),(21.09,0.01),(21.13,-0.01),(21.17,0.02),(21.21,0),(21.25,-0.04),(21.28,0.01),(21.32,0.03),(21.36,0.02),(21.40,0.03),(21.45,0.01),(21.49,-0.01),(21.53,0),(21.56,0.01),(21.60,0),(21.64,0.02),(21.68,0.05),(21.72,0.01),(21.74,-0.01),(21.78,0.04),(21.82,0.05),(21.86,0.05),(21.89,0.04),(21.92,-0.01),(21.96,-0.08),(21.98,-0.06),(22.01,-0.01),(22.05,0.05),(22.09,0.06),(22.12,0.07),(22.16,0.06),(22.20,0.02),(22.24,-0.04),(22.28,-0.10),(22.30,-0.13),(22.33,-0.10),(22.35,0.01),(22.38,0.09),(22.40,0.13),(22.43,0.14),(22.45,0.09),(22.48,0.02),(22.52,-0.05),(22.56,-0.09),(22.59,-0.12),(22.62,-0.08),(22.67,-0.01),(22.72,0.04),(22.76,0.06),(22.80,0.08),(22.84,0.07),(22.87,0.05),(22.91,-0.01),(22.95,-0.11),(22.98,-0.09),(23.00,-0.01),(23.04,0.06),(23.08,0.08),(23.12,0.06),(23.15,0.04),(23.18,0.01),(23.22,-0.02),(23.26,-0.04),(23.29,-0.01),(23.33,-0.06),(23.37,-0.05),(23.41,-0.01),(23.45,0.06),(23.47,0.10),(23.51,0.07),(23.55,0.02),(23.59,0.01),(23.62,0),(23.66,0.01),(23.70,0.01),(23.73,0.03),(23.75,-0.01),(23.78,-0.06),(23.81,-0.05),(23.85,-0.01),(23.89,0.04),(23.93,0.08),(23.95,0.06),(23.98,0.02),(23.99,-0.01)]

SERIES = [FBYN, PLTC, NMSF, NMRO, TCUN, GDAC, TXAM, JTNT, OKAL, OKDT, NDS1, LTHM, NLIB, LKHU, OKOM]

Y_TICKS = [0.00, 0.25, 0.50, 0.75, 1.00, 1.25, 1.50, 1.75, 2.00, 2.25, 2.50, 2.75, 3.00, 3.25, 3.50]
X_TICKS = [18, 19, 20, 21, 22, 23, 24]
Y_RANGE = [-0.253, 3.751]

# ---------------- styling: time-coded line colour (red -> green -> blue -> dark) ----------------
COLOR_STOPS = [
    (18.75, (125, 15, 20)), (19.00, (165, 30, 35)), (19.12, (215, 62, 58)),
    (19.50, (228, 85, 75)), (19.85, (212, 118, 65)), (20.10, (188, 138, 55)),
    (20.40, (158, 165, 55)), (20.70, (105, 205, 55)), (21.00, (60, 225, 60)),
    (21.30, (55, 205, 105)), (21.60, (50, 170, 145)), (21.90, (62, 130, 192)),
    (22.10, (65, 95, 218)), (22.50, (52, 58, 228)), (22.90, (50, 50, 200)),
    (23.30, (42, 42, 152)), (23.70, (55, 55, 110)), (24.05, (55, 55, 75)),
]


def color_at(t):
    if t <= COLOR_STOPS[0][0]:
        c = COLOR_STOPS[0][1]
    elif t >= COLOR_STOPS[-1][0]:
        c = COLOR_STOPS[-1][1]
    else:
        for (t0, c0), (t1, c1) in zip(COLOR_STOPS[:-1], COLOR_STOPS[1:]):
            if t0 <= t <= t1:
                f = (t - t0) / (t1 - t0)
                c = tuple(c0[k] + f * (c1[k] - c0[k]) for k in range(3))
                break
    return "rgb(%d,%d,%d)" % tuple(int(round(v)) for v in c)


BIN = 0.04
T0 = 18.7
bins = {}
for pts, off in zip(SERIES, OFFSETS):
    pts = sorted(pts)
    cur_bin, cur = None, None
    for (ta, va), (tb, vb) in zip(pts[:-1], pts[1:]):
        b = int(((ta + tb) / 2 - T0) // BIN)
        if b != cur_bin:
            if cur:
                bins.setdefault(cur_bin, []).append(cur)
            cur_bin = b
            cur = [(ta, va + off)]
        cur.append((tb, vb + off))
    if cur:
        bins.setdefault(cur_bin, []).append(cur)

fig = go.Figure()
for b in sorted(bins):
    xs, ys = [], []
    for poly in bins[b]:
        xs += [p[0] for p in poly] + [None]
        ys += [p[1] for p in poly] + [None]
    fig.add_trace(go.Scatter(x=xs, y=ys, mode="lines", hoverinfo="skip", showlegend=False,
                             line=dict(color=color_at(T0 + (b + 0.5) * BIN), width=1.6)))

# station labels
for name, off, col, bold in zip(STATIONS, OFFSETS, LABEL_COLORS, LABEL_BOLD):
    big = (col == "red") or bold
    txt = "<b>%s</b>" % name if bold else name
    fig.add_annotation(x=18.17, y=off + (0.11 if big else 0.148), xref="x", yref="y",
                       text=txt, showarrow=False, xanchor="left", yanchor="middle",
                       font=dict(family="DejaVu Sans", size=25 if big else 21, color=col))

# inward tick marks on all four sides of the frame (every 0.1 h; y marks between grid lines)
PLOT_W, PLOT_H = 787.0, 775.0
tick_shapes = []
for k in range(61):
    xv = 18 + k * 0.1
    for y0, y1 in ((0, 11 / PLOT_H), (1 - 11 / PLOT_H, 1)):
        tick_shapes.append(dict(type="line", xref="x", yref="paper", x0=xv, x1=xv, y0=y0, y1=y1,
                                line=dict(color="#8a8a8a", width=1), layer="above"))
for yv in [v - 0.125 for v in Y_TICKS] + [3.625]:
    for x0, x1 in ((0, 10 / PLOT_W), (1 - 10 / PLOT_W, 1)):
        tick_shapes.append(dict(type="line", xref="paper", yref="y", x0=x0, x1=x1, y0=yv, y1=yv,
                                line=dict(color="#555", width=1), layer="above"))

TICKFONT = dict(family="Liberation Sans, Arial", size=22, color="#111")

# edge tick labels (drawn pulled inside as in the source figure)
fig.add_annotation(x=-0.012, y=(787 - 20) / 775, xref="paper", yref="paper", text="3.75",
                   showarrow=False, xanchor="right", yanchor="middle", font=TICKFONT)
fig.add_annotation(x=-0.012, y=(787 - 777) / 775, xref="paper", yref="paper", text="\u22120.25",
                   showarrow=False, xanchor="right", yanchor="middle", font=TICKFONT)

# axis titles
fig.add_annotation(x=0.505, y=-0.088, xref="paper", yref="paper", text="Universal Time (hours)",
                   showarrow=False, xanchor="center", yanchor="middle",
                   font=dict(family="Liberation Sans, Arial", size=48, color="black"))
fig.add_annotation(x=-0.128, y=0.504, xref="paper", yref="paper", text="VTEC Variation (TECU)",
                   showarrow=False, xanchor="center", yanchor="middle", textangle=-90,
                   font=dict(family="Liberation Sans, Arial", size=48, color="black"))

fig.update_layout(
    width=947, height=897,
    margin=dict(l=139, r=21, t=12, b=110, pad=0),
    paper_bgcolor="white", plot_bgcolor="white",
    shapes=tick_shapes,
    xaxis=dict(range=[18, 24], tickmode="array", tickvals=X_TICKS, ticktext=[str(v) for v in X_TICKS],
               ticks="",
               showgrid=True, gridcolor="#222", griddash="dot", gridwidth=1,
               showline=True, linecolor="black", linewidth=1, mirror=True,
               zeroline=False, tickfont=TICKFONT, ticklabelstandoff=7),
    yaxis=dict(range=Y_RANGE, tickmode="array", tickvals=Y_TICKS,
               ticktext=["%.2f" % v for v in Y_TICKS], ticks="",
               showgrid=True, gridcolor="#444", griddash="dot", gridwidth=1,
               showline=True, linecolor="black", linewidth=1, mirror=True,
               zeroline=False, tickfont=TICKFONT, ticklabelstandoff=8),
)

fig.write_html("out.html")
